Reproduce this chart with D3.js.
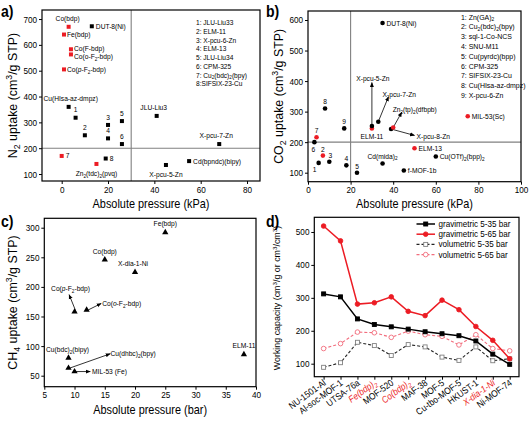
<!DOCTYPE html>
<html><head><meta charset="utf-8">
<script src="https://cdn.jsdelivr.net/npm/d3@7"></script>
<style>
body{margin:0;background:#fff;}
svg{display:block;font-family:"Liberation Sans",Arial,sans-serif;}
</style></head>
<body><svg id="c" width="531" height="421"></svg>
<script>
// ---------------- DATA ----------------
// Panel a: N2 uptake
const aNames = ["Co(bdp)","Fe(bdp)","Co(F-bdp)","Co(o-F_{2}-bdp)","Co(*{p}-F_{2}-bdp)","7","Zn_{2}(tdc)_{2}(pvq)",
  "DUT-8(Ni)","Cu(HIsa-az-dmpz)","1","2","3","4","5","6","8","JLU-Liu3","X-pcu-7-Zn","X-pcu-5-Zn","Cd(bpndc)(bipy)"];
const aX = [3,1,4,4,1,0,15, 13,3,6,10,20,20,26,26,19,41,68,45,55];
const aY = [670,640,583,563,505,170,139, 672,360,318,250,290,238,305,216,160,325,216,135,150];
const aRed = [1,1,1,1,1,1,1, 0,0,0,0,0,0,0,0,0,0,0,0,0];
const aLegend = ["1: JLU-Liu33","2: ELM-11","3: X-pcu-6-Zn","4: ELM-13","5: JLU-Liu34","6: CPM-325","7: Cu_{2}(bdc)_{2}(bpy)","8:SIFSIX-23-Cu"];
const aXTicks = [0,20,40,60,80];
const aYTicks = [100,200,300,400,500,600,700];

// Panel b: CO2 uptake
const bNames = ["DUT-8(Ni)","8","7","6","2","1","3","4","9","5","ELM-11","X-pcu-5-Zn","X-pcu-7-Zn","X-pcu-8-Zn","Zn_{2}(tp)_{2}(dfbpb)",
  "Cd(mida)_{2}","ELM-13","f-MOF-1b","Cu(OTf)_{2}(bpp)_{2}","MIL-53(Sc)"];
const bX = [35,8,4,3,7,5,10,18,17,23,30,30,33,39,40,35,50,45,60,75];
const bY = [590,310,216,200,156,132,136,124,245,100,245,253,267,243,248,130,180,107,153,285];
const bRed = [0,0,1,0,1,0,0,0,0,0,1,0,0,0,1,0,1,0,0,1];
const bLegend = ["1: Zn(GA)_{2}","2: Cu_{2}(bdc)_{2}(bpy)","3: sql-1-Co-NCS","4: SNU-M11","5: Cu(pyrdc)(bpp)","6: CPM-325","7: SIFSIX-23-Cu","8: Cu(HIsa-az-dmpz)","9: X-pcu-6-Zn"];
const bXTicks = [0,20,40,60,80,100];
const bYTicks = [100,200,300,400,500,600];

// Panel c: CH4 uptake
const cNames = ["Fe(bdp)","Co(bdp)","X-dia-1-Ni","Co(*{p}-F_{2}-bdp)","Co(*{o}-F_{2}-bdp)","Cu(bdc)_{2}(bipy)","Cu(dhbc)_{2}(bpy)","MIL-53 (Fe)","ELM-11"];
const cX = [25,15,20,10,12,9,9,10,38];
const cY = [292,246,225,158,161,80,63,57,86];
const cXTicks = [5,10,15,20,25,30,35,40];
const cYTicks = [50,100,150,200,250,300];

// Panel d: working capacity
const dCategories = ["NU-1501-Al","Al-soc-MOF-1","UTSA-76a","Fe(bdp)_{2}","MOF-520","Co(bdp)_{2}","MAF-38","MOF-5","Cu-tbo-MOF-5","HKUST-1","X-dia-1-Ni","Ni-MOF-74"];
const dRedCats = ["Fe(bdp)_{2}","Co(bdp)_{2}","X-dia-1-Ni"];
const dGrav35 = [312,303,236,219,212,205,197,191,185,169,129,98];
const dGrav65 = [518,473,281,285,303,259,246,293,264,213,171,115];
const dVol35  = [89,103,165,155,125,158,151,120,110,151,109,115];
const dVol65  = [146,161,196,194,180,199,188,183,157,188,146,139];
const dSeriesNames = ["gravimetric 5-35 bar","gravimetric 5-65 bar","volumetric 5-35 bar","volumetric 5-65 bar"];
const dYTicks = [100,200,300,400,500];

// ---------------- HELPERS ----------------
const RED = "#ec1c24", PINK = "#f26d7d", GRAY = "#808080";
const FF = '"Liberation Sans",Arial,sans-serif';
const SX = 0.88; // horizontal text compression seen in the reference
const svg = d3.select("#c");

function rich(sel, str, fs) {
  const re = /([_^*])\{([^}]*)\}/g;
  let last = 0, m; const parts = [];
  while ((m = re.exec(str))) {
    if (m.index > last) parts.push({t: str.slice(last, m.index), k: ""});
    parts.push({t: m[2], k: m[1]});
    last = re.lastIndex;
  }
  if (last < str.length) parts.push({t: str.slice(last), k: ""});
  let shift = 0;
  parts.forEach(p => {
    const ts = sel.append("tspan").text(p.t);
    let target = 0;
    if (p.k === "_") { target = fs * 0.25; ts.attr("font-size", fs * 0.7); }
    else if (p.k === "^") { target = -fs * 0.38; ts.attr("font-size", fs * 0.7); }
    else if (p.k === "*") ts.attr("font-style", "italic");
    if (target !== shift) { ts.attr("dy", target - shift); shift = target; }
  });
  return sel;
}
function txt(g, x, y, str, fs, anchor, color) {
  const t = g.append("text").attr("transform", `translate(${x},${y}) scale(${SX},1)`)
    .attr("font-size", fs).attr("text-anchor", anchor || "start").attr("fill", color || "#000");
  return rich(t, str, fs);
}
function vtxt(g, x, y, str, fs) {
  const t = g.append("text").attr("transform", `translate(${x},${y}) rotate(-90)`)
    .attr("font-size", fs).attr("text-anchor", "middle").attr("fill", "#000");
  return rich(t, str, fs);
}
function letter(x, y, s) {
  svg.append("text").attr("transform", `translate(${x},${y}) scale(${SX},1)`).attr("font-size", 16)
    .attr("font-weight", "bold").text(s);
}

svg.append("defs").append("marker").attr("id", "arr").attr("viewBox", "0 0 10 10")
  .attr("refX", 9).attr("refY", 5).attr("markerWidth", 5).attr("markerHeight", 5)
  .attr("orient", "auto-start-reverse").attr("markerUnits", "userSpaceOnUse")
  .append("path").attr("d", "M0,1 L10,5 L0,9 Z").attr("fill", "#000");

function frame(g, x, y) {
  const [x0, x1] = x.range(), [y1, y0] = y.range();
  g.append("rect").attr("x", x0).attr("y", y0).attr("width", x1 - x0).attr("height", y1 - y0)
    .attr("fill", "none").attr("stroke", "#000").attr("stroke-width", 1.2);
}
function styleAxis(ax, fs) {
  ax.select(".domain").remove();
  ax.selectAll(".tick line").attr("stroke", "#000").attr("stroke-width", 1);
  ax.selectAll(".tick text").attr("font-size", fs).attr("font-family", FF).attr("fill", "#000")
    .attr("transform", `scale(${SX},1)`);
}
function axes(g, x, y, xt, yt, fs) {
  const ax = g.append("g").attr("transform", `translate(0,${y.range()[0]})`)
    .call(d3.axisBottom(x).tickValues(xt).tickSize(3).tickPadding(2).tickFormat(d3.format("d")));
  styleAxis(ax, fs);
  const ay = g.append("g").attr("transform", `translate(${x.range()[0]},0)`)
    .call(d3.axisLeft(y).tickValues(yt).tickSize(3).tickPadding(2.5).tickFormat(d3.format("d")));
  styleAxis(ay, fs);
}

const TICKFS = 9.3, TITLEFS = 12.4, LABFS = 7.6, LEGFS = 7.9;

// ---------------- PANEL A ----------------
{
  const g = svg.append("g");
  const x = d3.scaleLinear().domain([-8.5, 85.6]).range([42, 260]);
  const y = d3.scaleLinear().domain([73, 735]).range([181, 10]);
  g.append("line").attr("x1", x(30)).attr("x2", x(30)).attr("y1", y.range()[1]).attr("y2", y.range()[0]).attr("stroke", GRAY).attr("stroke-width", 1.1);
  g.append("line").attr("x1", x.range()[0]).attr("x2", x.range()[1]).attr("y1", y(200)).attr("y2", y(200)).attr("stroke", GRAY).attr("stroke-width", 1.1);
  frame(g, x, y);
  axes(g, x, y, aXTicks, aYTicks, TICKFS);
  const s = 4;
  aNames.forEach((n, i) => {
    g.append("rect").attr("x", x(aX[i]) - s / 2).attr("y", y(aY[i]) - s / 2).attr("width", s).attr("height", s)
      .attr("fill", aRed[i] ? RED : "#000");
  });
  // label offsets in px (layout only): [dx, dy, anchor]
  const off = {
    "Co(bdp)": [-1, -6, "middle"], "Fe(bdp)": [3, 2.5, "start"], "Co(F-bdp)": [3, 2, "start"],
    "Co(o-F_{2}-bdp)": [3, 4.2, "start"], "Co(*{p}-F_{2}-bdp)": [3, 2.5, "start"], "7": [4, 2.5, "start"],
    "Zn_{2}(tdc)_{2}(pvq)": [0, 12.5, "middle"], "DUT-8(Ni)": [4, 2.5, "start"],
    "Cu(HIsa-az-dmpz)": [2, -6, "middle"], "1": [0, -5.5, "middle"], "2": [0, -5, "middle"], "3": [0, -5, "middle"],
    "4": [0, -5, "middle"], "5": [0, -5, "middle"], "6": [0, -5.5, "middle"], "8": [4, 2.5, "start"],
    "JLU-Liu3": [-3, -6, "middle"], "X-pcu-7-Zn": [-3, -6, "middle"], "X-pcu-5-Zn": [0, 12, "middle"],
    "Cd(bpndc)(bipy)": [4, 2.5, "start"]
  };
  aNames.forEach((n, i) => {
    const o = off[n];
    txt(g, x(aX[i]) + o[0], y(aY[i]) + o[1], n, LABFS, o[2]);
  });
  aLegend.forEach((n, i) => txt(g, 196, 25 + i * 8.75, n, 7.5, "start"));
  txt(g, (x.range()[0] + x.range()[1]) / 2, 208, "Absolute pressure (kPa)", TITLEFS, "middle");
  vtxt(g, 17, (y.range()[0] + y.range()[1]) / 2, "N_{2} uptake (cm^{3}/g STP)", TITLEFS);
  letter(1, 17, "a)");
}

// ---------------- PANEL B ----------------
{
  const g = svg.append("g");
  const x = d3.scaleLinear().domain([0, 100]).range([308, 521]);
  const y = d3.scaleLinear().domain([70.5, 629.5]).range([181.7, 11]);
  g.append("line").attr("x1", x(20)).attr("x2", x(20)).attr("y1", y.range()[1]).attr("y2", y.range()[0]).attr("stroke", GRAY).attr("stroke-width", 1.1);
  g.append("line").attr("x1", x.range()[0]).attr("x2", x.range()[1]).attr("y1", y(200)).attr("y2", y(200)).attr("stroke", GRAY).attr("stroke-width", 1.1);
  frame(g, x, y);
  axes(g, x, y, bXTicks, bYTicks, TICKFS);
  const arrows = [["X-pcu-5-Zn", 30, 395], ["X-pcu-7-Zn", 37.8, 349], ["Zn_{2}(tp)_{2}(dfbpb)", 44, 298], ["X-pcu-8-Zn", 50, 222]];
  arrows.forEach(a => {
    const i = bNames.indexOf(a[0]);
    g.append("line").attr("x1", x(bX[i])).attr("y1", y(bY[i])).attr("x2", x(a[1])).attr("y2", y(a[2]))
      .attr("stroke", "#000").attr("stroke-width", 0.8).attr("marker-end", "url(#arr)");
  });
  bNames.forEach((n, i) => {
    g.append("circle").attr("cx", x(bX[i])).attr("cy", y(bY[i])).attr("r", 2.3).attr("fill", bRed[i] ? RED : "#000");
  });
  const off = {
    "DUT-8(Ni)": [4, 2.5, "start"], "8": [0, -4.5, "middle"], "7": [0, -4.5, "middle"], "6": [-1, 9.5, "middle"],
    "2": [0, -4, "middle"], "1": [-4, 9, "middle"], "3": [1, -3.5, "middle"], "4": [0, -4, "middle"],
    "9": [0, -4, "middle"], "5": [0, -4, "middle"], "ELM-11": [0, 10.5, "middle"],
    "X-pcu-5-Zn": [1, -45, "middle"], "X-pcu-7-Zn": [21, -25, "middle"],
    "Zn_{2}(tp)_{2}(dfbpb)": [21.5, -15, "middle"], "Cd(mida)_{2}": [0, -5, "middle"], "ELM-13": [4, 2.5, "start"],
    "f-MOF-1b": [4, 2.5, "start"], "Cu(OTf)_{2}(bpp)_{2}": [4, 2.5, "start"], "MIL-53(Sc)": [4, 2.5, "start"],
    "X-pcu-8-Zn": [25.5, 9.5, "start"]
  };
  bNames.forEach((n, i) => {
    const o = off[n];
    txt(g, x(bX[i]) + o[0], y(bY[i]) + o[1], n, LABFS, o[2]);
  });
  bLegend.forEach((n, i) => txt(g, 461, 19.5 + i * 9.8, n, LEGFS, "start"));
  txt(g, (x.range()[0] + x.range()[1]) / 2, 208, "Absolute pressure (kPa)", TITLEFS, "middle");
  vtxt(g, 283, (y.range()[0] + y.range()[1]) / 2, "CO_{2} uptake (cm^{3}/g STP)", TITLEFS);
  letter(266, 17, "b)");
}

// ---------------- PANEL C ----------------
{
  const g = svg.append("g");
  const x = d3.scaleLinear().domain([5, 40]).range([44.3, 256]);
  const y = d3.scaleLinear().domain([31.4, 315.9]).range([386.7, 218.3]);
  frame(g, x, y);
  axes(g, x, y, cXTicks, cYTicks, TICKFS);
  const arrows = [["Co(*{p}-F_{2}-bdp)", 9.1, 187], ["Co(*{o}-F_{2}-bdp)", 14.4, 172], ["Cu(dhbc)_{2}(bpy)", 15.9, 87], ["MIL-53 (Fe)", 12.6, 57]];
  arrows.forEach(a => {
    const i = cNames.indexOf(a[0]);
    g.append("line").attr("x1", x(cX[i]) + 1.5).attr("y1", y(cY[i])).attr("x2", x(a[1])).attr("y2", y(a[2]))
      .attr("stroke", "#000").attr("stroke-width", 0.8).attr("marker-end", "url(#arr)");
  });
  const tri = d3.symbol().type(d3.symbolTriangle).size(17);
  cNames.forEach((n, i) => {
    g.append("path").attr("d", tri).attr("transform", `translate(${x(cX[i])},${y(cY[i])})`).attr("fill", "#000");
  });
  const off = {
    "Fe(bdp)": [0, -6, "middle"], "Co(bdp)": [0, -6, "middle"], "X-dia-1-Ni": [-2, -6, "middle"],
    "Co(*{p}-F_{2}-bdp)": [-4, -20.5, "middle"],
    "Co(*{o}-F_{2}-bdp)": [15.5, -4, "start"],
    "Cu(bdc)_{2}(bipy)": [-1, -6, "middle"],
    "Cu(dhbc)_{2}(bpy)": [42, -11.5, "start"],
    "MIL-53 (Fe)": [17.5, 2.8, "start"],
    "ELM-11": [0, -6, "middle"]
  };
  cNames.forEach((n, i) => {
    const o = off[n];
    txt(g, x(cX[i]) + o[0], y(cY[i]) + o[1], n, LABFS, o[2]);
  });
  txt(g, (x.range()[0] + x.range()[1]) / 2, 414, "Absolute pressure (bar)", TITLEFS, "middle");
  vtxt(g, 17, (y.range()[0] + y.range()[1]) / 2, "CH_{4} uptake (cm^{3}/g STP)", TITLEFS);
  letter(1, 227, "c)");
}

// ---------------- PANEL D ----------------
{
  const g = svg.append("g");
  const x = d3.scalePoint().domain(dCategories).range([314.3, 519]).padding(0.55);
  const y = d3.scaleLinear().domain([60.5, 544.6]).range([376.7, 217.3]);
  g.append("rect").attr("x", 314.3).attr("y", 217.3).attr("width", 519 - 314.3).attr("height", 376.7 - 217.3)
    .attr("fill", "none").attr("stroke", "#000").attr("stroke-width", 1.2);
  const ax = g.append("g").attr("transform", `translate(0,${y.range()[0]})`)
    .call(d3.axisBottom(x).tickSize(3).tickFormat(""));
  styleAxis(ax, 9);
  ax.selectAll(".tick text").remove();
  dCategories.forEach(c => {
    const red = dRedCats.includes(c);
    const t = g.append("text").attr("font-size", 9.4).attr("text-anchor", "end")
      .attr("transform", `translate(${x(c) + 3},${y.range()[0] + 7.5}) rotate(-36) scale(${SX},1)`)
      .attr("fill", red ? RED : "#000");
    if (red) t.attr("font-style", "italic");
    rich(t, c, 9.4);
  });
  const ay = g.append("g").attr("transform", `translate(314.3,0)`)
    .call(d3.axisLeft(y).tickValues(dYTicks).tickSize(3).tickPadding(2.5));
  styleAxis(ay, TICKFS);

  const series = [
    {v: dVol35, color: "#222", dash: "3,2", mark: "sq", fill: "none", mstroke: GRAY, w: 1.1},
    {v: dVol65, color: PINK, dash: "3,2", mark: "ci", fill: "none", mstroke: PINK, w: 1.1},
    {v: dGrav35, color: "#000", dash: null, mark: "sq", fill: "#000", mstroke: "#000", w: 1.5},
    {v: dGrav65, color: RED, dash: null, mark: "ci", fill: RED, mstroke: RED, w: 1.5}
  ];
  const line = d3.line().x((d, i) => x(dCategories[i])).y(d => y(d));
  function marker(gg, cx, cy, s) {
    if (s.mark === "sq") gg.append("rect").attr("x", cx - 2).attr("y", cy - 2).attr("width", 4).attr("height", 4)
      .attr("fill", s.fill === "none" ? "#fff" : s.fill).attr("stroke", s.mstroke).attr("stroke-width", 0.9);
    else gg.append("circle").attr("cx", cx).attr("cy", cy).attr("r", 2.3)
      .attr("fill", s.fill === "none" ? "#fff" : s.fill).attr("stroke", s.mstroke).attr("stroke-width", 0.9);
  }
  series.forEach(s => {
    g.append("path").attr("d", line(s.v)).attr("fill", "none").attr("stroke", s.color)
      .attr("stroke-width", s.w).attr("stroke-dasharray", s.dash);
    s.v.forEach((d, i) => marker(g, x(dCategories[i]), y(d), s));
  });
  const legOrder = [series[2], series[3], series[0], series[1]];
  legOrder.forEach((s, i) => {
    const yy = 224 + i * 10.2;
    g.append("line").attr("x1", 416.5).attr("x2", 435).attr("y1", yy).attr("y2", yy).attr("stroke", s.color)
      .attr("stroke-width", s.w).attr("stroke-dasharray", s.dash);
    marker(g, 425.7, yy, s);
    txt(g, 438.5, yy + 3, dSeriesNames[i], 9.2, "start");
  });
  vtxt(g, 280, (217.3 + 376.7) / 2 + 1, "Working capacity (cm^{3}/g or cm^{3}/cm^{3})", 8.9);
  letter(266, 227, "d)");
}
</script></body></html>
